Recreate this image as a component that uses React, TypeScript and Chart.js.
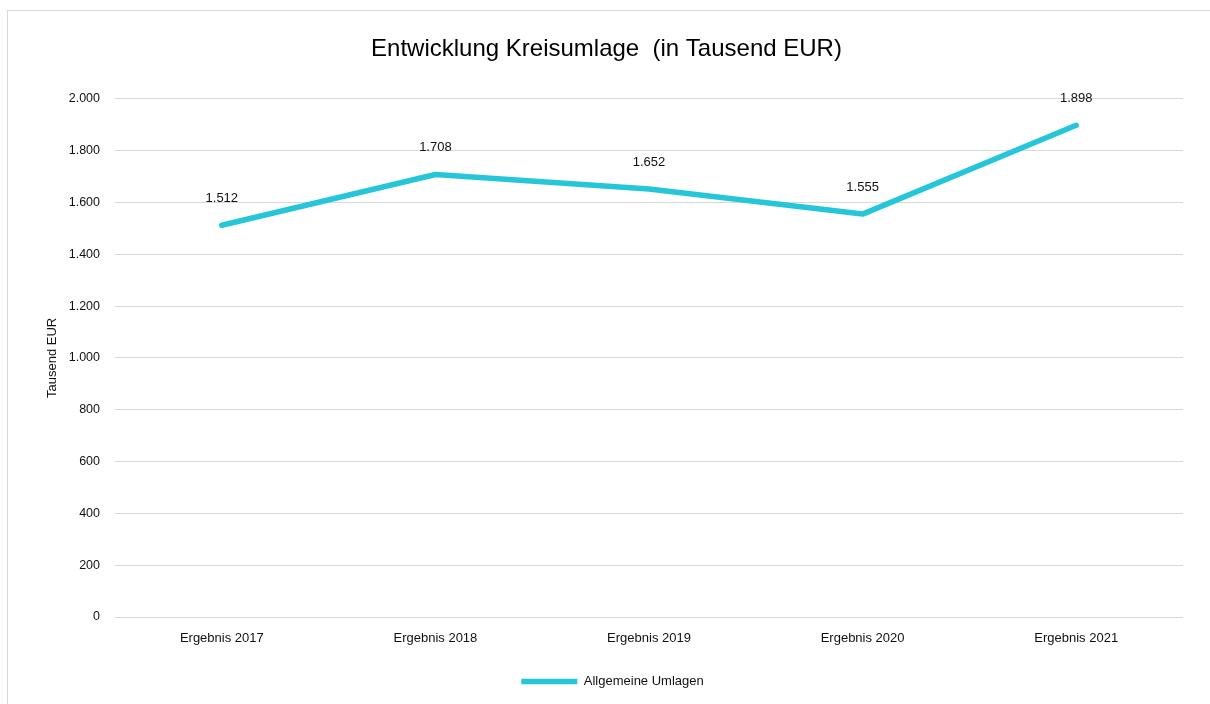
import React, { useEffect, useRef } from "react";
import { Chart, registerables } from "chart.js";

Chart.register(...registerables);

const categories = ["Ergebnis 2017", "Ergebnis 2018", "Ergebnis 2019", "Ergebnis 2020", "Ergebnis 2021"];
const umlagen = [1512, 1708, 1652, 1555, 1898];
const seriesName = "Allgemeine Umlagen";
const chartTitle = "Entwicklung Kreisumlage  (in Tausend EUR)";
const yTitle = "Tausend EUR";
const yMin = 0;
const yMax = 2000;
const yStep = 200;

const FONT = "'Liberation Sans', Arial, sans-serif";
const LINE_COLOR = "rgb(38,198,218)";

function fmt(v: number): string {
  const s = Math.round(v).toString();
  return s.replace(/\B(?=(\d{3})+(?!\d))/g, ".");
}

const dataLabelPlugin = {
  id: "dataLabels",
  afterDatasetsDraw(chart: any) {
    const ctx = chart.ctx;
    const meta = chart.getDatasetMeta(0);
    const ds = chart.data.datasets[0];
    ctx.save();
    ctx.font = `13px ${FONT}`;
    ctx.fillStyle = "#111";
    ctx.textAlign = "center";
    ctx.textBaseline = "middle";
    meta.data.forEach((pt: any, i: number) => {
      ctx.fillText(fmt(ds.data[i]), pt.x, pt.y - 27);
    });
    ctx.restore();
  },
};

const legendShiftPlugin = {
  id: "legendShift",
  afterLayout(chart: any) {
    const lg = chart.legend;
    if (lg) {
      lg.left += 6;
      lg.right += 6;
    }
  },
};

export default function App() {
  const ref = useRef<HTMLCanvasElement | null>(null);
  useEffect(() => {
    if (!ref.current) return;
    const chart = new Chart(ref.current, {
      type: "line",
      data: {
        labels: categories,
        datasets: [
          {
            label: seriesName,
            data: umlagen,
            borderColor: LINE_COLOR,
            backgroundColor: LINE_COLOR,
            borderWidth: 5.5,
            borderCapStyle: "round",
            borderJoinStyle: "round",
            pointRadius: 0,
            pointHoverRadius: 0,
            pointStyle: "line",
            tension: 0,
            fill: false,
          },
        ],
      },
      options: {
        responsive: false,
        animation: false,
        devicePixelRatio: 1,
        layout: { padding: { left: 22, right: 15, top: 0, bottom: 3 } },
        plugins: {
          title: {
            display: true,
            text: chartTitle,
            color: "#000",
            font: { family: FONT, size: 24, weight: "normal" },
            padding: { top: 24, bottom: 35 },
          },
          legend: {
            display: true,
            position: "bottom",
            labels: {
              usePointStyle: true,
              pointStyle: "line",
              pointStyleWidth: 56,
              color: "#111",
              font: { family: FONT, size: 13 },
              padding: 10,
            },
          },
          tooltip: { enabled: false },
        },
        scales: {
          x: {
            offset: true,
            grid: { display: false, drawTicks: false },
            border: { display: false },
            ticks: {
              color: "#111",
              font: { family: FONT, size: 13 },
              padding: 14,
              maxRotation: 0,
            },
            afterFit: (scale: any) => {
              scale.height = 48;
            },
          },
          y: {
            min: yMin,
            max: yMax,
            grid: { color: "#d9d9d9", lineWidth: 1, drawTicks: false },
            border: { display: false },
            ticks: {
              stepSize: yStep,
              color: "#111",
              font: { family: FONT, size: 12.5 },
              padding: 15,
              callback: (v: any) => fmt(Number(v)),
            },
            title: {
              display: true,
              text: yTitle,
              color: "#111",
              font: { family: FONT, size: 13 },
              padding: { top: 15, bottom: 0 },
            },
            afterFit: (scale: any) => {
              scale.width = 85;
            },
          },
        },
      },
      plugins: [dataLabelPlugin, legendShiftPlugin],
    } as any);
    return () => chart.destroy();
  }, []);

  return (
    <div
      style={{
        position: "fixed",
        left: 7,
        top: 10,
        width: 1220,
        height: 720,
        border: "1px solid #d9d9d9",
        boxSizing: "border-box",
        background: "#fff",
      }}
    >
      <canvas
        ref={ref}
        width={1190}
        height={690}
        style={{ position: "absolute", left: 0, top: 0, width: 1190, height: 690 }}
      />
    </div>
  );
}
